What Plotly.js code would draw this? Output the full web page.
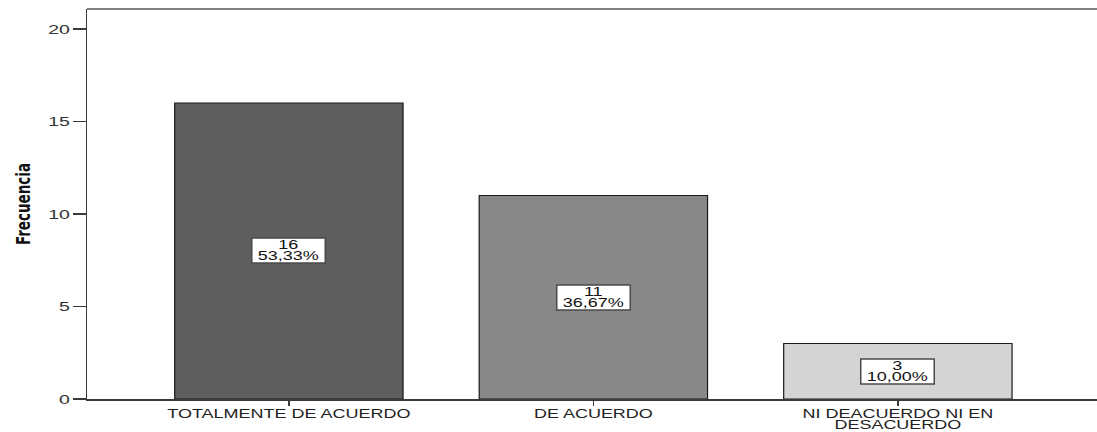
<!DOCTYPE html>
<html>
<head>
<meta charset="utf-8">
<script src="https://cdn.plot.ly/plotly-3.0.1.min.js"></script>
<style>html,body{margin:0;padding:0;background:#fff;overflow:hidden}</style>
</head>
<body>
<div id="chart" style="width:1097px;height:432px"></div>
<script>
const categories = ["TOTALMENTE DE ACUERDO", "DE ACUERDO", "NI DEACUERDO NI EN<br>DESACUERDO"];
const frecuencia = [16, 11, 3];
const porcentajes = ["53,33%", "36,67%", "10,00%"];
const barColors = ["#5e5e5e", "#888888", "#d4d4d4"];
const yTicks = [0, 5, 10, 15, 20];

const idx = categories.map((c, i) => i);
const FONT = "Liberation Sans, Arial, sans-serif";

const trace = {
  type: "bar",
  x: idx,
  y: frecuencia,
  width: 0.75,
  marker: {color: barColors, line: {color: "#1a1a1a", width: 1.2}},
  hoverinfo: "skip"
};

const annotations = idx.map(i => ({
  x: i, y: frecuencia[i] / 2, xref: "x", yref: "y",
  text: frecuencia[i] + "<br>" + porcentajes[i],
  showarrow: false,
  width: 70,
  font: {family: FONT, size: 12, color: "#111"},
  bgcolor: "#ffffff", bordercolor: "#4a4a4a", borderwidth: 1.5, borderpad: 1
}));

const layout = {
  width: 1097, height: 432,
  margin: {l: 87, r: 0, t: 9, b: 33},
  paper_bgcolor: "#ffffff", plot_bgcolor: "#ffffff",
  showlegend: false,
  xaxis: {
    range: [-0.663, 2.654],
    tickmode: "array", tickvals: idx, ticktext: categories,
    showgrid: false, zeroline: false,
    showline: true, linecolor: "#3a3a3a", linewidth: 1.5,
    ticks: "outside", ticklen: 5, tickcolor: "#3a3a3a", tickwidth: 1.5,
    tickfont: {family: FONT, size: 12, color: "#222"},
    fixedrange: true
  },
  yaxis: {
    range: [0, 21.08],
    tickmode: "array", tickvals: yTicks,
    showgrid: false, zeroline: false,
    showline: true, linecolor: "#3a3a3a", linewidth: 1.5,
    ticks: "outside", ticklen: 13, tickcolor: "#3a3a3a", tickwidth: 1.5,
    tickfont: {family: FONT, size: 13, color: "#333"},
    title: {text: "Frecuencia", standoff: 22,
      font: {family: "Liberation Sans Narrow, DejaVu Sans Condensed, Arial Narrow, sans-serif", size: 15, color: "#111", weight: "bold"}},
    fixedrange: true
  },
  shapes: [{
    type: "line", xref: "paper", yref: "paper", x0: 0, x1: 1, y0: 1, y1: 1,
    line: {color: "#555555", width: 1.5}
  }],
  annotations: annotations
};

// The reference image is horizontally stretched; mimic it by stretching texts.
function tighten(el, em, keep) {
  const lines = el.querySelectorAll("tspan.line");
  if (lines.length < 2) return;
  const b0 = el.getBBox();
  lines.forEach((t, k) => { if (k > 0) t.setAttribute("dy", em + "em"); });
  const b1 = el.getBBox();
  const dy = keep === "top" ? (b0.y - b1.y) : ((b0.y + b0.height / 2) - (b1.y + b1.height / 2));
  const t = el.getAttribute("transform") || "";
  el.setAttribute("transform", t + ` translate(0,${dy})`);
}
function stretch(el, sx, sy, anchor, extraY) {
  const b = el.getBBox();
  const cx = anchor === "end" ? b.x + b.width : b.x + b.width / 2;
  const cy = b.y + b.height / 2;
  const t = el.getAttribute("transform") || "";
  el.setAttribute("transform", t + ` translate(0,${extraY || 0}) translate(${cx},${cy}) scale(${sx},${sy}) translate(${-cx},${-cy})`);
}
function shrinkBox(rect, h) {
  const y = parseFloat(rect.getAttribute("y") || "0");
  const oh = parseFloat(rect.getAttribute("height"));
  rect.setAttribute("y", y + (oh - h) / 2);
  rect.setAttribute("height", h);
}

Plotly.newPlot("chart", [trace], layout, {displayModeBar: false, staticPlot: true}).then(gd => {
  gd.querySelectorAll(".xtick text").forEach(el => { tighten(el, 0.92, "top"); stretch(el, 1.5, 1, "middle", -2); });
  gd.querySelectorAll(".ytick text").forEach(el => stretch(el, 1.5, 1, "end", 0));
  gd.querySelectorAll("text.annotation-text").forEach(el => { tighten(el, 0.92, "center"); stretch(el, 1.5, 1, "middle", 0); });
  gd.querySelectorAll(".annotation-text-g rect.bg").forEach(r => shrinkBox(r, 25));
  gd.querySelectorAll(".ytitle").forEach(el => stretch(el, 1, 1.3, "middle", 0));
});
</script>
</body>
</html>
